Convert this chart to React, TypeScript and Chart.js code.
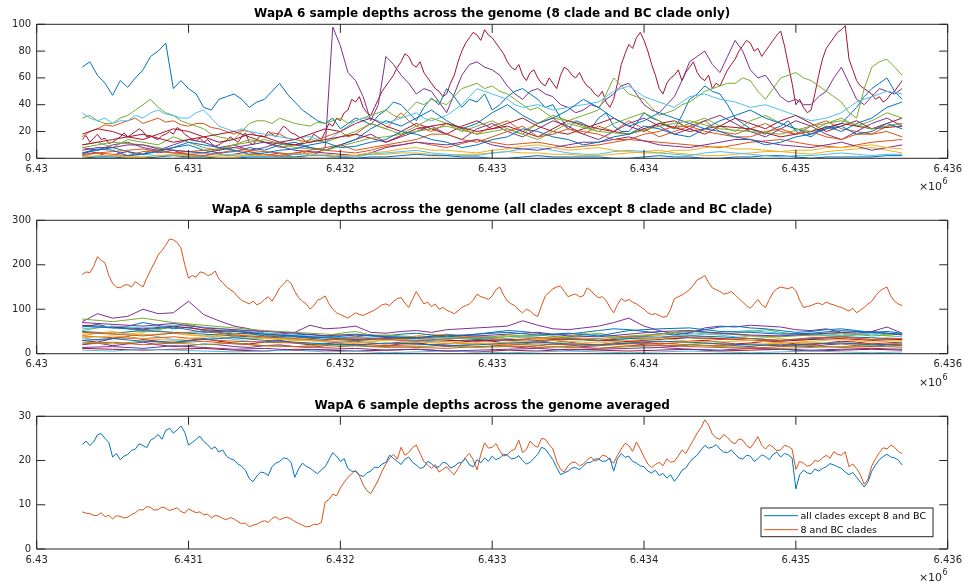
import React, { useEffect, useRef } from "react";
import { Chart, registerables } from "chart.js";

Chart.register(...registerables);

const FONT = "'DejaVu Sans', sans-serif";
const AXIS_COLOR = "#262626";
const BLUE = "#0072BD";
const ORANGE = "#D95319";
const YELLOW = "#EDB120";
const PURPLE = "#7E2F8E";
const GREEN = "#77AC30";
const CYAN = "#4DBEEE";
const CRIMSON = "#A2142F";

// Genomic positions of the sampled bases (several sampling densities)
const FIRST_POS = 6430300;
const posGrid = (step: number, n: number) => Array.from({ length: n }, (_, i) => FIRST_POS + i * step);
const POS25 = posGrid(25, 217);
const POS50 = posGrid(50, 109);
const POS100 = posGrid(100, 55);
const POS200 = posGrid(200, 28);

// ---- Panel 1: 8 clade and BC clade samples ----
const S8_A = [68, 72, 62, 56, 47, 58, 53, 60, 66, 76, 80, 86, 52, 58, 52, 48, 38, 36, 44, 46, 48, 44, 38, 42, 44, 50, 56, 48, 42, 36, 32, 28, 26, 30, 22, 26, 30, 28, 25, 32, 36, 42, 40, 34, 28, 38, 45, 40, 52, 46, 38, 44, 42, 48, 36, 40, 46, 50, 52, 48, 44, 38, 40, 30, 22, 28, 26, 22, 30, 34, 24, 20, 20, 26, 34, 30, 28, 24, 22, 32, 44, 48, 54, 50, 48, 40, 30, 26, 22, 20, 18, 22, 24, 28, 20, 18, 16, 20, 22, 24, 26, 32, 38, 46, 52, 56, 60, 50, 44];
const S8_B = [3, 5, 4, 2, 2, 4, 5, 3, 3, 6, 4, 5, 6, 4, 3, 2, 2, 3, 4, 2, 3, 4, 5, 3, 2, 3, 4, 2, 3, 5, 2, 4, 8, 98, 84, 64, 58, 46, 28, 40, 76, 70, 62, 56, 48, 52, 50, 42, 34, 48, 62, 70, 72, 68, 66, 62, 54, 48, 44, 50, 52, 48, 46, 40, 38, 34, 36, 40, 38, 44, 48, 54, 56, 48, 40, 36, 34, 40, 46, 58, 72, 76, 80, 70, 64, 76, 88, 80, 66, 60, 62, 54, 46, 42, 44, 40, 40, 46, 50, 60, 68, 56, 44, 40, 46, 52, 50, 48, 52];
const S8_C = [14, 17, 12, 15, 18, 14, 15, 11, 12, 14, 16, 19, 16, 18, 20, 22, 20, 16, 17, 15, 14, 17, 18, 20, 18, 23, 21, 18, 16, 14, 13, 15, 12, 14, 11, 9, 10, 12, 13, 16, 14, 12, 16, 19, 12, 10, 14, 17, 16, 20, 18, 16, 20, 24, 22, 19, 18, 16, 15, 12, 14, 18, 16, 14, 20, 26, 24, 30, 28, 34, 36, 44, 42, 46, 38, 34, 32, 38, 44, 50, 54, 58, 62, 68, 72, 78, 76, 70, 68, 72, 64, 60, 56, 52, 50, 46, 48, 56, 62, 72, 80, 86, 90, 94, 92, 88, 96, 92, 90, 86, 82, 78, 72, 68, 66, 70, 62, 58, 64, 66, 60, 56, 54, 60, 56, 52, 62, 68, 66, 62, 60, 64, 58, 54, 52, 48, 46, 50, 42, 38, 44, 56, 70, 78, 85, 82, 90, 94, 88, 80, 70, 62, 52, 48, 56, 60, 62, 66, 58, 64, 68, 72, 64, 60, 58, 62, 52, 56, 54, 60, 66, 70, 74, 80, 84, 88, 86, 80, 82, 76, 80, 84, 88, 92, 95, 84, 70, 56, 40, 44, 38, 34, 36, 48, 62, 74, 82, 86, 90, 94, 96, 99, 74, 66, 58, 54, 52, 50, 48, 44, 46, 42, 44, 48, 50, 54, 58];
const S8_D = [30, 32, 28, 26, 26, 30, 32, 36, 40, 44, 38, 34, 32, 28, 26, 24, 22, 18, 16, 15, 14, 20, 26, 28, 28, 26, 30, 28, 26, 25, 24, 27, 26, 28, 30, 26, 28, 30, 32, 34, 36, 32, 30, 36, 42, 40, 44, 42, 40, 46, 52, 54, 56, 52, 54, 50, 48, 44, 40, 36, 38, 34, 30, 29, 28, 30, 32, 34, 36, 48, 60, 54, 48, 46, 44, 38, 32, 34, 36, 40, 42, 46, 50, 52, 54, 56, 56, 60, 58, 50, 44, 52, 60, 62, 64, 60, 58, 54, 50, 46, 42, 34, 30, 52, 68, 72, 74, 68, 62];
const S8_E = [34, 30, 28, 30, 26, 28, 28, 32, 30, 34, 36, 33, 32, 30, 30, 34, 36, 30, 24, 22, 20, 22, 20, 19, 18, 17, 16, 15, 14, 16, 16, 14, 12, 16, 20, 24, 28, 30, 30, 28, 26, 28, 30, 32, 34, 30, 28, 30, 32, 36, 40, 46, 52, 50, 48, 46, 44, 40, 38, 39, 40, 38, 36, 37, 38, 39, 40, 41, 42, 46, 50, 52, 54, 50, 46, 44, 42, 40, 38, 42, 46, 47, 48, 46, 44, 43, 42, 40, 38, 39, 40, 38, 36, 34, 32, 30, 28, 29, 30, 32, 34, 38, 42, 44, 46, 48, 50, 49, 48];
const S8_F = [16, 20, 22, 25, 24, 26, 28, 30, 26, 28, 30, 27, 28, 25, 24, 26, 26, 23, 22, 20, 18, 21, 20, 17, 16, 19, 18, 15, 14, 13, 12, 14, 16, 18, 20, 16, 18, 22, 26, 24, 22, 28, 34, 28, 24, 22, 20, 23, 26, 24, 22, 20, 18, 21, 24, 26, 28, 24, 20, 23, 26, 28, 30, 26, 22, 20, 18, 21, 24, 22, 20, 24, 28, 25, 22, 19, 16, 18, 20, 22, 24, 26, 28, 24, 20, 19, 18, 20, 22, 24, 26, 23, 20, 19, 18, 21, 24, 26, 28, 25, 22, 21, 20, 19, 18, 21, 24, 25, 26];
const S8_M1 = [4, 6, 8, 5, 3, 6, 8, 10, 6, 4, 5, 8, 6, 10, 12, 8, 6, 10, 14, 22, 28, 24, 30, 36, 28, 22, 26, 34, 40, 32, 26, 30, 36, 44, 38, 30, 24, 28, 34, 30, 26, 22, 28, 32, 36, 30, 26, 22, 18, 24, 20, 26, 30, 38, 42];
const S8_M2 = [10, 12, 8, 14, 12, 10, 16, 12, 8, 6, 10, 14, 12, 8, 10, 14, 12, 16, 20, 26, 22, 18, 24, 30, 26, 20, 24, 28, 22, 18, 26, 32, 28, 24, 20, 26, 30, 34, 28, 22, 26, 30, 24, 20, 28, 32, 26, 22, 20, 26, 30, 24, 28, 34, 30];
const S8_M3 = [8, 6, 10, 12, 8, 6, 10, 14, 12, 8, 10, 6, 8, 12, 10, 8, 6, 10, 14, 18, 12, 16, 20, 24, 18, 14, 22, 26, 20, 16, 22, 28, 24, 18, 14, 20, 26, 30, 24, 18, 22, 28, 32, 26, 20, 16, 22, 28, 24, 18, 14, 20, 26, 30, 24];
const S8_M4 = [18, 22, 20, 16, 14, 18, 22, 20, 16, 12, 14, 18, 16, 12, 14, 18, 22, 20, 26, 30, 24, 20, 26, 22, 18, 24, 28, 22, 26, 30, 24, 20, 18, 22, 26, 30, 24, 20, 26, 28, 22, 18, 24, 30, 26, 22, 28, 32, 26, 20, 24, 28, 22, 26, 30];
const S8_L1 = [4, 7, 6, 2, 3, 5, 8, 12, 10, 8, 6, 3, 4, 6, 7, 10, 12, 8, 9, 12, 14, 20, 18, 14, 12, 8, 10, 14, 16, 22, 20, 16, 14, 10, 12, 16, 18, 24, 22, 18, 16, 22, 20, 16, 14, 10, 12, 16, 18, 22, 24, 18, 20, 26, 22];
const S8_L2 = [2, 4, 3, 2, 5, 6, 4, 3, 2, 4, 6, 5, 3, 2, 4, 6, 8, 10, 6, 8, 10, 12, 14, 18, 18, 14, 12, 16, 20, 24, 16, 18, 22, 20, 18, 14, 14, 18, 20, 24, 24, 20, 18, 16, 16, 20, 22, 18, 20, 16, 14, 18, 18, 20, 16];
const S8_L3 = [1, 2, 2, 1, 1, 2, 3, 2, 2, 1, 1, 3, 2, 2, 4, 3, 3, 2, 2, 4, 5, 7, 8, 6, 6, 5, 4, 6, 7, 9, 10, 8, 6, 7, 8, 6, 5, 4, 4, 6, 6, 8, 9, 7, 7, 6, 5, 6, 6, 8, 8, 9, 10, 8, 7];
const S8_L4 = [6, 8, 8, 10, 10, 7, 6, 5, 4, 6, 8, 10, 12, 9, 6, 5, 4, 3, 2, 4, 8, 10, 12, 11, 10, 12, 14, 10, 8, 7, 6, 8, 10, 12, 12, 14, 16, 13, 10, 9, 8, 10, 12, 14, 14, 12, 10, 9, 8, 10, 12, 9, 6, 8, 10];
const S8_L5 = [8, 10, 12, 11, 10, 8, 6, 5, 4, 7, 10, 12, 14, 11, 8, 7, 6, 9, 12, 15, 16, 18, 20, 22, 24, 21, 18, 20, 22, 18, 14, 20, 26, 23, 20, 19, 18, 21, 24, 26, 28, 25, 22, 21, 20, 19, 18, 21, 24, 26, 28, 25, 22, 24, 26];
const S8_L6 = [2, 1, 1, 2, 3, 2, 2, 3, 4, 3, 2, 1, 1, 2, 3, 2, 2, 1, 1, 3, 4, 5, 6, 4, 3, 2, 2, 4, 5, 7, 8, 6, 4, 3, 3, 5, 6, 5, 4, 3, 2, 4, 5, 4, 3, 2, 1, 2, 2, 3, 4, 3, 2, 3, 3];
const S8_L7 = [10, 12, 14, 16, 18, 15, 12, 14, 16, 18, 20, 16, 12, 11, 10, 12, 14, 16, 18, 15, 12, 17, 22, 24, 26, 23, 20, 22, 24, 20, 16, 22, 28, 25, 22, 20, 18, 22, 26, 23, 20, 22, 24, 23, 22, 19, 16, 18, 20, 23, 26, 24, 22, 23, 24];
const S8_L8 = [0, 1, 1, 0, 0, 1, 2, 1, 1, 0, 0, 1, 1, 1, 1, 2, 2, 1, 0, 1, 1, 2, 3, 2, 2, 1, 1, 0, 0, 1, 2, 1, 1, 1, 1, 0, 0, 1, 2, 1, 1, 0, 0, 1, 1, 2, 2, 1, 0, 1, 1, 1, 1, 2, 2];
const S8_L9 = [3, 4, 5, 6, 7, 5, 4, 5, 6, 7, 8, 6, 5, 4, 3, 4, 6, 5, 4, 6, 9, 10, 12, 10, 8, 11, 14, 12, 10, 11, 12, 10, 8, 9, 10, 12, 14, 13, 12, 11, 10, 9, 8, 10, 12, 13, 14, 12, 10, 9, 8, 10, 12, 13, 14];
const S8_L10 = [0, 1, 2, 1, 1, 0, 0, 1, 1, 2, 3, 2, 2, 1, 1, 0, 0, 1, 2, 3, 3, 4, 4, 3, 2, 3, 3, 4, 5, 4, 4, 3, 3, 2, 2, 3, 4, 5, 6, 4, 3, 2, 2, 3, 4, 5, 5, 4, 3, 5, 6, 7, 8, 6, 4];

// ---- Panel 2: all other clades ----
const SO_TOP = [178, 184, 182, 196, 218, 210, 204, 176, 158, 150, 148, 154, 155, 150, 162, 156, 150, 170, 188, 204, 222, 232, 244, 258, 256, 250, 238, 200, 170, 176, 172, 184, 182, 176, 178, 186, 168, 160, 150, 144, 138, 128, 120, 116, 112, 118, 110, 114, 122, 128, 118, 132, 148, 156, 166, 158, 140, 126, 118, 112, 100, 108, 120, 124, 130, 112, 100, 92, 88, 84, 80, 86, 92, 88, 86, 90, 94, 98, 104, 110, 112, 108, 118, 124, 126, 114, 104, 122, 140, 126, 112, 116, 106, 112, 100, 104, 98, 94, 90, 96, 104, 108, 112, 120, 134, 128, 126, 122, 130, 144, 150, 132, 118, 112, 108, 98, 92, 100, 96, 88, 84, 108, 130, 138, 146, 150, 152, 140, 128, 132, 134, 128, 130, 148, 142, 132, 126, 128, 120, 104, 92, 110, 124, 118, 122, 116, 112, 106, 100, 92, 88, 90, 86, 82, 84, 100, 124, 128, 132, 138, 144, 154, 166, 170, 176, 160, 148, 144, 140, 134, 136, 140, 132, 124, 116, 108, 102, 112, 122, 110, 104, 122, 138, 146, 150, 148, 146, 150, 142, 120, 104, 106, 108, 112, 114, 110, 116, 112, 110, 106, 104, 100, 96, 102, 92, 98, 104, 112, 118, 130, 140, 146, 150, 130, 118, 112, 108];
const SO_H = [72, 90, 80, 84, 100, 90, 92, 118, 88, 74, 62, 56, 46, 44, 48, 64, 56, 58, 62, 48, 46, 50, 52, 48, 54, 56, 58, 60, 62, 74, 64, 56, 54, 58, 62, 70, 80, 62, 52, 44, 46, 58, 62, 60, 64, 62, 60, 54, 52, 56, 48, 46, 50, 60, 46];
const SO_Q1 = [60, 66, 58, 62, 70, 64, 56, 60, 52, 48, 44, 46, 40, 38, 42, 44, 40, 36, 38, 42, 40, 44, 46, 42, 38, 40, 44, 48, 52, 50, 46, 42, 44, 48, 52, 56, 54, 50, 46, 42, 48, 54, 60, 62, 58, 56, 52, 48, 50, 54, 56, 52, 48, 50, 46];
const SO_Q2 = [40, 46, 50, 44, 48, 52, 46, 42, 40, 44, 38, 34, 36, 32, 30, 34, 36, 32, 30, 28, 32, 36, 40, 44, 42, 38, 34, 36, 40, 38, 34, 36, 40, 46, 42, 38, 34, 32, 36, 40, 42, 38, 34, 36, 40, 38, 34, 30, 32, 36, 38, 34, 32, 36, 34];
const SO_Q3 = [52, 58, 62, 56, 50, 54, 60, 66, 58, 52, 46, 44, 40, 42, 38, 36, 40, 46, 50, 42, 38, 34, 36, 40, 44, 40, 36, 38, 42, 40, 36, 34, 38, 42, 46, 40, 36, 40, 44, 48, 52, 48, 44, 46, 50, 54, 48, 44, 42, 46, 40, 44, 48, 42, 44];
const SO_Q4 = [30, 26, 34, 38, 32, 28, 24, 30, 34, 28, 24, 22, 26, 30, 24, 20, 22, 26, 28, 24, 22, 26, 24, 20, 22, 26, 30, 28, 24, 22, 26, 30, 26, 22, 20, 24, 28, 26, 22, 24, 28, 30, 26, 22, 24, 28, 26, 22, 20, 24, 28, 26, 22, 24, 26];
const SO_Q5 = [20, 24, 18, 22, 26, 20, 16, 18, 22, 20, 16, 14, 18, 20, 16, 14, 18, 22, 20, 16, 18, 22, 24, 20, 16, 18, 22, 20, 16, 14, 18, 22, 20, 16, 18, 22, 24, 20, 18, 16, 20, 24, 22, 18, 16, 20, 22, 18, 16, 20, 22, 18, 16, 20, 18];
const SO_Q6 = [36, 30, 34, 40, 44, 38, 32, 28, 34, 38, 32, 28, 26, 30, 34, 30, 26, 24, 28, 32, 36, 30, 26, 28, 32, 36, 40, 38, 34, 30, 34, 38, 36, 32, 28, 30, 34, 38, 36, 32, 40, 44, 42, 38, 34, 36, 40, 44, 46, 40, 38, 42, 44, 40, 38];
const SO_P1 = [62, 58, 54, 60, 48, 52, 44, 40, 36, 42, 38, 34, 40, 44, 48, 42, 46, 40, 52, 56, 58, 50, 48, 44, 46, 52, 48, 44];
const SO_P2 = [48, 44, 40, 46, 50, 42, 38, 34, 30, 36, 32, 28, 34, 38, 30, 36, 34, 30, 38, 40, 36, 32, 34, 30, 36, 38, 32, 34];
const SO_P3 = [36, 40, 34, 30, 38, 44, 36, 32, 28, 24, 30, 34, 28, 22, 26, 32, 28, 24, 30, 34, 28, 26, 30, 24, 28, 32, 26, 30];
const SO_P4 = [70, 66, 62, 68, 58, 54, 50, 46, 40, 44, 38, 36, 42, 40, 44, 48, 40, 38, 44, 50, 52, 46, 42, 40, 44, 48, 50, 42];
const SO_P5 = [78, 72, 80, 70, 64, 58, 52, 48, 44, 40, 42, 38, 36, 34, 38, 42, 36, 34, 40, 44, 50, 46, 40, 38, 42, 46, 40, 44];
const SO_P6 = [56, 62, 58, 64, 60, 54, 46, 42, 38, 34, 40, 36, 32, 38, 34, 40, 46, 42, 38, 36, 44, 48, 52, 46, 40, 42, 46, 44];
const SO_P7 = [64, 60, 56, 62, 54, 50, 44, 40, 36, 32, 36, 34, 30, 28, 32, 30, 34, 30, 28, 32, 36, 34, 30, 28, 32, 34, 30, 32];
const SO_P8 = [30, 34, 28, 26, 32, 36, 30, 26, 22, 20, 24, 22, 18, 20, 24, 26, 22, 20, 24, 28, 26, 22, 20, 18, 22, 24, 20, 22];
const SO_P9 = [22, 26, 20, 24, 28, 22, 18, 16, 14, 18, 16, 14, 12, 16, 18, 14, 16, 12, 18, 20, 16, 14, 12, 16, 18, 14, 16, 18];
const SO_P10 = [44, 48, 42, 46, 40, 36, 34, 30, 28, 26, 22, 26, 24, 20, 22, 26, 24, 20, 26, 28, 24, 22, 20, 24, 26, 22, 20, 24];
const SO_P11 = [14, 16, 12, 18, 14, 10, 12, 8, 10, 12, 8, 10, 6, 8, 10, 12, 8, 10, 12, 14, 10, 8, 12, 10, 8, 10, 12, 10];
const SO_P12 = [26, 22, 28, 24, 20, 24, 18, 16, 20, 18, 14, 16, 18, 14, 16, 18, 14, 12, 16, 18, 20, 16, 14, 12, 14, 16, 18, 14];
const SO_P13 = [8, 6, 10, 8, 6, 4, 6, 8, 4, 6, 2, 4, 6, 4, 2, 4, 6, 4, 2, 4, 6, 4, 2, 4, 6, 4, 2, 4];
const SO_P14 = [12, 10, 8, 10, 12, 8, 6, 10, 8, 6, 8, 10, 6, 4, 8, 6, 10, 8, 6, 8, 10, 6, 8, 10, 6, 8, 10, 8];
const SO_P15 = [50, 46, 52, 48, 44, 40, 36, 38, 32, 30, 34, 30, 28, 32, 30, 28, 32, 30, 34, 36, 40, 38, 34, 30, 34, 38, 36, 32];
const SO_P16 = [40, 36, 34, 38, 32, 28, 26, 24, 20, 22, 18, 20, 22, 24, 20, 22, 20, 18, 22, 24, 20, 18, 22, 20, 22, 24, 22, 20];

// ---- Panel 3: averaged depths ----
const AVG_OTHERS = [23.6, 24.4, 23.4, 24.2, 25.8, 26.1, 25.0, 24.1, 20.8, 21.6, 20.2, 21.0, 21.4, 22.3, 22.6, 23.8, 23.4, 22.9, 24.6, 25.1, 25.9, 24.8, 26.8, 27.3, 26.2, 26.9, 27.8, 26.4, 23.5, 24.1, 24.8, 25.5, 24.3, 23.6, 22.6, 23.1, 21.9, 22.4, 21.0, 20.4, 20.1, 19.2, 18.7, 17.8, 15.9, 15.2, 16.5, 17.4, 17.2, 16.6, 18.6, 19.4, 19.8, 20.6, 20.4, 19.6, 16.2, 18.1, 19.4, 18.7, 18.3, 17.6, 17.0, 17.9, 18.6, 20.2, 21.8, 21.0, 19.8, 20.4, 18.2, 17.6, 17.5, 16.8, 16.4, 17.2, 17.6, 18.5, 18.4, 19.2, 19.6, 21.2, 20.5, 19.8, 19.1, 20.3, 20.8, 19.6, 19.0, 18.2, 18.5, 19.8, 19.3, 18.4, 18.6, 19.6, 19.4, 18.3, 18.7, 19.4, 19.6, 20.4, 19.0, 18.6, 20.2, 19.5, 20.6, 19.8, 21.0, 20.2, 20.6, 21.4, 21.2, 20.4, 20.5, 21.1, 20.0, 19.2, 19.6, 20.5, 21.4, 23.0, 22.6, 21.4, 20.2, 18.4, 16.8, 17.2, 17.6, 18.3, 18.4, 17.9, 18.8, 19.5, 19.6, 20.3, 20.4, 19.8, 19.9, 20.6, 17.6, 20.4, 21.6, 20.7, 21.0, 19.8, 19.4, 18.8, 18.6, 17.6, 17.2, 17.8, 16.6, 17.1, 16.0, 16.8, 15.3, 16.4, 17.8, 18.3, 19.6, 20.6, 21.2, 22.4, 23.4, 22.8, 23.0, 23.6, 22.6, 21.9, 21.8, 22.4, 21.4, 20.6, 20.3, 21.2, 21.0, 19.8, 20.4, 21.3, 20.9, 20.2, 21.4, 21.9, 20.8, 21.6, 21.3, 20.6, 13.6, 16.8, 17.8, 17.2, 17.0, 18.1, 17.6, 18.2, 18.6, 19.3, 19.0, 18.6, 18.2, 17.4, 16.8, 17.3, 16.2, 15.1, 14.0, 15.2, 17.6, 19.0, 20.2, 20.9, 21.4, 20.8, 20.6, 20.1, 19.0];
const AVG_8BC = [8.4, 8.1, 8.0, 7.6, 7.6, 8.2, 7.3, 7.6, 6.8, 7.5, 7.4, 7.0, 7.2, 7.8, 8.2, 8.9, 8.8, 9.6, 9.4, 8.8, 8.9, 9.5, 9.2, 8.7, 9.0, 9.3, 8.5, 8.1, 9.1, 8.6, 8.2, 8.4, 7.7, 7.9, 7.0, 7.6, 7.4, 6.9, 6.6, 7.1, 6.8, 6.2, 5.7, 5.9, 5.0, 5.4, 5.6, 6.1, 6.4, 6.0, 6.9, 7.3, 6.6, 7.0, 7.2, 6.8, 6.2, 5.8, 5.4, 5.0, 5.1, 5.6, 5.5, 6.0, 10.6, 11.2, 12.4, 12.0, 13.8, 15.1, 16.2, 17.0, 17.8, 16.6, 14.5, 13.2, 12.5, 14.0, 15.6, 17.6, 19.2, 20.6, 21.4, 20.3, 23.0, 21.2, 21.8, 22.9, 23.5, 21.6, 19.8, 19.0, 18.2, 19.1, 17.4, 18.0, 18.6, 17.6, 16.8, 18.2, 19.6, 20.8, 21.6, 20.2, 17.9, 21.4, 24.0, 22.8, 23.0, 23.8, 22.2, 21.0, 21.4, 22.2, 22.6, 24.6, 21.8, 22.5, 24.4, 23.4, 23.0, 25.0, 24.8, 23.6, 22.6, 19.8, 18.0, 17.4, 18.8, 19.6, 19.6, 18.8, 19.2, 20.1, 20.8, 19.9, 20.2, 21.2, 21.0, 20.1, 19.4, 21.2, 22.6, 23.9, 23.4, 22.1, 24.2, 22.6, 20.8, 19.2, 18.4, 19.1, 19.6, 18.8, 20.4, 19.6, 19.8, 21.0, 22.4, 21.6, 23.2, 24.6, 26.2, 27.4, 29.2, 28.0, 26.0, 25.1, 24.8, 25.9, 25.2, 24.2, 23.8, 24.9, 24.6, 23.4, 22.8, 24.0, 25.4, 23.5, 22.6, 23.6, 23.0, 22.2, 22.4, 23.4, 23.2, 22.6, 18.0, 19.8, 19.4, 18.7, 19.0, 20.0, 19.8, 20.6, 21.2, 20.5, 22.0, 21.4, 21.2, 22.0, 18.6, 19.2, 18.2, 16.8, 14.6, 15.8, 18.8, 20.4, 21.8, 22.9, 22.6, 23.5, 23.0, 22.0, 21.6];

const AVG_LABELS = ["all clades except 8 and BC", "8 and BC clades"];

const PLOT_LEFT = 36.7;
const PLOT_RIGHT = 947.7;
const WIDTH = 964;

function line(label: string, color: string, xs: number[], ys: number[]) {
  return {
    label,
    data: ys.map((y, i) => ({ x: xs[i], y })),
    borderColor: color,
    backgroundColor: color,
    borderWidth: 1,
    pointRadius: 0,
    fill: false,
    tension: 0,
  };
}

// Box, inward ticks on all four sides, x exponent and an in-axes legend
const matlabAxes = {
  id: "matlabAxes",
  afterDraw(chart: any, _args: any, opts: any) {
    const ctx: CanvasRenderingContext2D = chart.ctx;
    const a = chart.chartArea;
    const xs = chart.scales.x;
    const ys = chart.scales.y;
    const L = Number(a.left);
    const T = Number(a.top);
    const R = Number(a.right);
    const B = Number(a.bottom);
    ctx.save();
    ctx.globalAlpha = 1;
    ctx.globalCompositeOperation = "source-over";
    ctx.setLineDash([]);
    ctx.strokeStyle = AXIS_COLOR;
    ctx.lineWidth = 1;
    const tl = 8.5;
    ctx.beginPath();
    ctx.moveTo(L, T);
    ctx.lineTo(R, T);
    ctx.lineTo(R, B);
    ctx.lineTo(L, B);
    ctx.closePath();
    for (const t of xs.ticks) {
      const px = xs.getPixelForValue(t.value);
      ctx.moveTo(px, B);
      ctx.lineTo(px, B - tl);
      ctx.moveTo(px, T);
      ctx.lineTo(px, T + tl);
    }
    for (const t of ys.ticks) {
      const py = ys.getPixelForValue(t.value);
      ctx.moveTo(L, py);
      ctx.lineTo(L + tl, py);
      ctx.moveTo(R, py);
      ctx.lineTo(R - tl, py);
    }
    ctx.stroke();

    // ×10^6 exponent under the right end of the x axis
    ctx.fillStyle = AXIS_COLOR;
    ctx.textBaseline = "alphabetic";
    ctx.textAlign = "right";
    ctx.font = `8px ${FONT}`;
    const supW = ctx.measureText("6").width;
    ctx.fillText("6", R, B + 26);
    ctx.font = `11px ${FONT}`;
    ctx.fillText("\u00d710", R - supW - 0.5, B + 32);

    if (opts && opts.legend) {
      const ds = chart.data.datasets;
      const w = 172;
      const h = 28.7;
      const bx = R - 14.7 - w;
      const by = B - 12.3 - h;
      ctx.fillStyle = "#ffffff";
      ctx.fillRect(bx, by, w, h);
      ctx.strokeStyle = AXIS_COLOR;
      ctx.strokeRect(bx, by, w, h);
      ctx.font = `9.5px ${FONT}`;
      ctx.textAlign = "left";
      ctx.textBaseline = "middle";
      ds.forEach((d: any, i: number) => {
        const yy = by + 7.7 + i * 14;
        ctx.strokeStyle = d.borderColor;
        ctx.beginPath();
        ctx.moveTo(bx + 3, yy);
        ctx.lineTo(bx + 37, yy);
        ctx.stroke();
        ctx.fillStyle = "#000000";
        ctx.fillText(d.label, bx + 39.5, yy + 0.5);
      });
    }
    ctx.restore();
  },
};

type PanelSpec = {
  title: string;
  top: number;
  height: number;
  plotTop: number;
  plotBottom: number;
  titleY: number;
  yMax: number;
  yStep: number;
  legend?: boolean;
  datasets: any[];
};

const PANELS: PanelSpec[] = [
  {
    title: "WapA 6 sample depths across the genome (8 clade and BC clade only)",
    top: 0,
    height: 195,
    plotTop: 24.3,
    plotBottom: 158.3,
    titleY: 14,
    yMax: 100,
    yStep: 20,
    datasets: [
      line("s1", BLUE, POS100, S8_L1),
      line("s2", ORANGE, POS100, S8_L2),
      line("s3", YELLOW, POS100, S8_L3),
      line("s4", PURPLE, POS100, S8_L4),
      line("s5", GREEN, POS100, S8_L5),
      line("s6", CYAN, POS100, S8_L6),
      line("s7", CRIMSON, POS100, S8_L7),
      line("s8", BLUE, POS100, S8_L8),
      line("s9", ORANGE, POS100, S8_L9),
      line("s10", YELLOW, POS100, S8_L10),
      line("s11", BLUE, POS100, S8_M1),
      line("s12", GREEN, POS100, S8_M2),
      line("s13", PURPLE, POS100, S8_M3),
      line("s14", CRIMSON, POS100, S8_M4),
      line("s15", CYAN, POS50, S8_E),
      line("s16", ORANGE, POS50, S8_F),
      line("s17", GREEN, POS50, S8_D),
      line("s18", BLUE, POS50, S8_A),
      line("s19", PURPLE, POS50, S8_B),
      line("s20", CRIMSON, POS25, S8_C),
    ],
  },
  {
    title: "WapA 6 sample depths across the genome (all clades except 8 clade and BC clade)",
    top: 195,
    height: 195,
    plotTop: 25.3,
    plotBottom: 158.7,
    titleY: 15,
    yMax: 300,
    yStep: 100,
    datasets: [
      line("o1", BLUE, POS200, SO_P1),
      line("o2", ORANGE, POS200, SO_P2),
      line("o3", YELLOW, POS200, SO_P3),
      line("o4", PURPLE, POS200, SO_P4),
      line("o5", GREEN, POS200, SO_P5),
      line("o6", CYAN, POS200, SO_P6),
      line("o7", CRIMSON, POS200, SO_P7),
      line("o8", BLUE, POS200, SO_P8),
      line("o9", ORANGE, POS200, SO_P9),
      line("o10", YELLOW, POS200, SO_P10),
      line("o11", PURPLE, POS200, SO_P11),
      line("o12", GREEN, POS200, SO_P12),
      line("o13", CYAN, POS200, SO_P13),
      line("o14", CRIMSON, POS200, SO_P14),
      line("o15", BLUE, POS200, SO_P15),
      line("o16", ORANGE, POS200, SO_P16),
      line("o17", BLUE, POS100, SO_Q1),
      line("o18", YELLOW, POS100, SO_Q2),
      line("o19", GREEN, POS100, SO_Q3),
      line("o20", CRIMSON, POS100, SO_Q4),
      line("o21", PURPLE, POS100, SO_Q5),
      line("o22", CYAN, POS100, SO_Q6),
      line("o23", PURPLE, POS100, SO_H),
      line("o24", ORANGE, POS25, SO_TOP),
    ],
  },
  {
    title: "WapA 6 sample depths across the genome averaged",
    top: 390,
    height: 193,
    plotTop: 26.3,
    plotBottom: 159,
    titleY: 15.7,
    yMax: 30,
    yStep: 10,
    legend: true,
    datasets: [
      line(AVG_LABELS[0], BLUE, POS25, AVG_OTHERS),
      line(AVG_LABELS[1], ORANGE, POS25, AVG_8BC),
    ],
  },
];

function buildConfig(p: PanelSpec): any {
  const titleSize = 12;
  const titleLine = titleSize * 1.2;
  const padTop = p.titleY - titleLine / 2;
  const padBottom = p.plotTop - padTop - titleLine;
  const tickFont = { family: FONT, size: 10 };
  return {
    type: "line",
    data: { datasets: p.datasets },
    options: {
      animation: false,
      responsive: false,
      devicePixelRatio: 1,
      events: [],
      layout: { padding: { left: 0, right: WIDTH - PLOT_RIGHT, top: 0, bottom: 0 } },
      plugins: {
        legend: { display: false },
        tooltip: { enabled: false },
        title: {
          display: true,
          fullSize: false,
          text: p.title,
          color: "#000000",
          font: { family: FONT, size: titleSize, weight: "bold", lineHeight: 1.2 },
          padding: { top: padTop, bottom: padBottom },
        },
        matlabAxes: { legend: !!p.legend },
      },
      scales: {
        x: {
          type: "linear",
          min: 6430000,
          max: 6436000,
          grid: { display: false, drawTicks: false },
          border: { display: false },
          ticks: {
            stepSize: 1000,
            autoSkip: false,
            maxRotation: 0,
            padding: 5,
            color: AXIS_COLOR,
            font: tickFont,
            callback: (v: number) => (v / 1e6).toFixed(3).replace(/0+$/, ""),
          },
          afterFit: (s: any) => {
            s.height = p.height - p.plotBottom;
            s.paddingLeft = 0;
            s.paddingRight = 0;
          },
        },
        y: {
          type: "linear",
          min: 0,
          max: p.yMax,
          grid: { display: false, drawTicks: false },
          border: { display: false },
          ticks: {
            stepSize: p.yStep,
            padding: 5.5,
            color: AXIS_COLOR,
            font: tickFont,
          },
          afterFit: (s: any) => {
            s.width = PLOT_LEFT;
          },
        },
      },
    },
    plugins: [matlabAxes],
  };
}

function Panel({ spec }: { spec: PanelSpec }) {
  const ref = useRef<HTMLCanvasElement>(null);
  useEffect(() => {
    if (!ref.current) return;
    const chart = new Chart(ref.current, buildConfig(spec));
    return () => chart.destroy();
  }, [spec]);
  return (
    <canvas
      ref={ref}
      width={WIDTH}
      height={spec.height}
      style={{ position: "absolute", left: 0, top: spec.top, width: WIDTH, height: spec.height }}
    />
  );
}

export default function App() {
  return (
    <div style={{ position: "fixed", left: 0, top: 0, width: WIDTH, height: 583, background: "#ffffff" }}>
      {PANELS.map((p, i) => (
        <Panel key={i} spec={p} />
      ))}
    </div>
  );
}
